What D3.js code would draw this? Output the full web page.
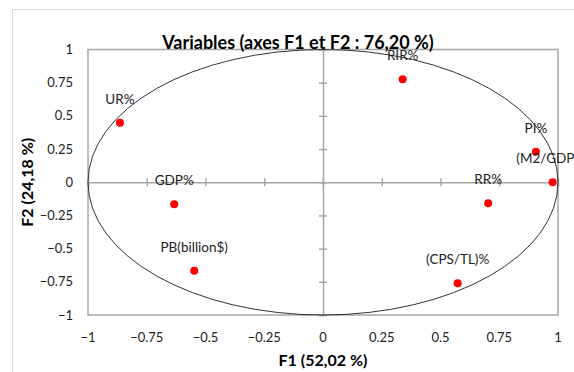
<!DOCTYPE html>
<html>
<head>
<meta charset="utf-8">
<script src="https://cdn.jsdelivr.net/npm/d3@7"></script>
<style>
  body { margin: 0; background: #fff; }
  svg { display: block; font-family: Lato, "Open Sans", sans-serif; }
</style>
</head>
<body>
<svg id="chart" width="574" height="372"></svg>
<script>
// variables correlation circle data
const labels = ["UR%", "RIR%", "PI%", "(M2/GDP)%", "RR%", "(CPS/TL)%", "GDP%", "PB(billion$)"];
const f1 = [-0.864, 0.339, 0.906, 0.977, 0.703, 0.573, -0.633, -0.548];
const f2 = [0.449, 0.776, 0.230, 0.000, -0.159, -0.761, -0.166, -0.666];
const ticks = [-1, -0.75, -0.5, -0.25, 0, 0.25, 0.5, 0.75, 1];

const W = 574, H = 372;
const Margin = [49.5, 315, 558, 88]; // top bottom right left (pixel edges)
const SVG = d3.select("#chart");

const X = d3.scaleLinear().domain([-1, 1]).range([Margin[3], Margin[2]]);
const Y = d3.scaleLinear().domain([-1, 1]).range([Margin[1], Margin[0]]);
const grey = "#a6a6a6";

// outer chart frame
SVG.append("rect")
  .attr("x", 12.5).attr("y", 9.5)
  .attr("width", 600).attr("height", 400)
  .attr("fill", "none").attr("stroke", "#d9d9d9");

// plot area frame
SVG.append("rect")
  .attr("x", X(-1)).attr("y", Y(1))
  .attr("width", X(1) - X(-1)).attr("height", Y(-1) - Y(1))
  .attr("fill", "none").attr("stroke", grey).attr("stroke-width", 1.5);

// axes through origin with crossing ticks
const xAxis = SVG.append("g")
  .attr("transform", `translate(0,${Y(0)})`)
  .call(d3.axisBottom(X).tickValues(ticks).tickSize(4).tickFormat(""));
xAxis.selectAll(".tick line").attr("y1", -4);
const yAxis = SVG.append("g")
  .attr("transform", `translate(${X(0)},0)`)
  .call(d3.axisLeft(Y).tickValues(ticks).tickSize(4).tickFormat(""));
yAxis.selectAll(".tick line").attr("x1", 4);
SVG.selectAll(".domain, .tick line").attr("stroke", grey).attr("stroke-width", 1.5);

// tick labels
SVG.append("g").selectAll("text")
  .data(ticks).join("text")
  .attr("x", d => X(d)).attr("y", 342)
  .attr("text-anchor", "middle")
  .attr("font-size", 13).attr("fill", "#222")
  .text(d => d3.format("")(d));
SVG.append("g").selectAll("text")
  .data(ticks).join("text")
  .attr("x", 73).attr("y", d => Y(d) + 4.5)
  .attr("text-anchor", "end")
  .attr("font-size", 13).attr("fill", "#222")
  .text(d => d3.format("")(d));

// unit circle
SVG.append("ellipse")
  .attr("cx", X(0)).attr("cy", Y(0))
  .attr("rx", X(1) - X(0)).attr("ry", Y(0) - Y(1))
  .attr("fill", "none").attr("stroke", "#333").attr("stroke-width", 1);

// points and labels
const pts = SVG.append("g").selectAll("g")
  .data(labels).join("g")
  .attr("transform", (_, i) => `translate(${X(f1[i])},${Y(f2[i])})`);
pts.append("circle").attr("r", 4).attr("fill", "#ff0000");
pts.append("text")
  .attr("y", -19)
  .attr("text-anchor", "middle")
  .attr("font-size", 13.5).attr("fill", "#222")
  .text(d => d);

// titles
SVG.append("text")
  .attr("x", 298).attr("y", 49)
  .attr("text-anchor", "middle")
  .attr("font-size", 18).attr("font-weight", "bold").attr("fill", "#000")
  .text("Variables (axes F1 et F2 : 76,20 %)");
SVG.append("text")
  .attr("x", X(0)).attr("y", 366)
  .attr("text-anchor", "middle")
  .attr("font-size", 16).attr("font-weight", "bold").attr("fill", "#000")
  .text("F1 (52,02 %)");
SVG.append("text")
  .attr("transform", `translate(33,${Y(0)}) rotate(-90)`)
  .attr("text-anchor", "middle")
  .attr("font-size", 16).attr("font-weight", "bold").attr("fill", "#000")
  .text("F2 (24,18 %)");
</script>
</body>
</html>
